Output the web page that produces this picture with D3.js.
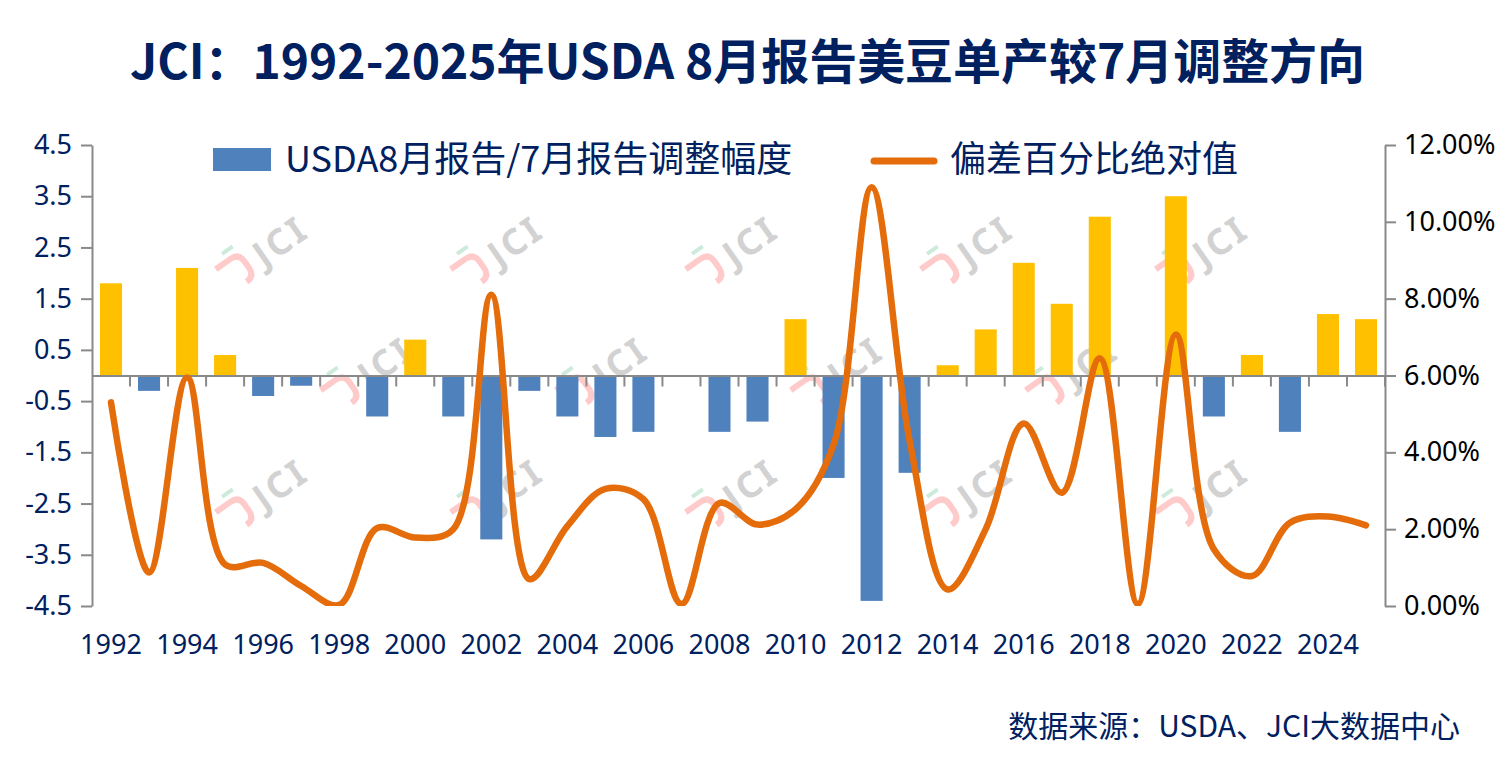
<!DOCTYPE html>
<html>
<head>
<meta charset="utf-8">
<script src="https://cdn.jsdelivr.net/npm/d3@7"></script>
<style>
  body { margin: 0; background: #fff; }
  svg { display: block; }
</style>
</head>
<body>
<script>
// categories
var years = ["1992", "1993", "1994", "1995", "1996", "1997", "1998", "1999", "2000", "2001",
             "2002", "2003", "2004", "2005", "2006", "2007", "2008", "2009", "2010", "2011",
             "2012", "2013", "2014", "2015", "2016", "2017", "2018", "2019", "2020", "2021",
             "2022", "2023", "2024", "2025"];

// USDA 8月报告/7月报告调整幅度 (蒲式耳/英亩)
var adjust = [1.8, -0.3, 2.1, 0.4, -0.4, -0.2, 0, -0.8, 0.7, -0.8,
              -3.2, -0.3, -0.8, -1.2, -1.1, 0, -1.1, -0.9, 1.1, -2.0,
              -4.4, -1.9, 0.2, 0.9, 2.2, 1.4, 3.1, 0, 3.5, -0.8,
              0.4, -1.1, 1.2, 1.1];

// 偏差百分比绝对值 (%)
var deviation = [5.3, 0.87, 5.95, 1.08, 1.12, 0.52, 0.03, 2.03, 1.78, 2.0,
                 8.1, 0.7, 2.08, 3.05, 2.78, 0.05, 2.68, 2.12, 2.52, 4.2,
                 10.9, 4.3, 0.43, 2.0, 4.75, 2.95, 6.45, 0.05, 7.07, 1.48,
                 0.78, 2.17, 2.33, 2.1];

// tick labels
var leftTicks = [4.5, 3.5, 2.5, 1.5, 0.5, -0.5, -1.5, -2.5, -3.5, -4.5];
var rightTicks = [0, 0.02, 0.04, 0.06, 0.08, 0.10, 0.12];
var yearLabels = ["1992", "1994", "1996", "1998", "2000", "2002", "2004", "2006", "2008",
                  "2010", "2012", "2014", "2016", "2018", "2020", "2022", "2024"];

var titleText = "JCI：1992-2025年USDA 8月报告美豆单产较7月调整方向";
var seriesNames = ["USDA8月报告/7月报告调整幅度", "偏差百分比绝对值"];
var sourceText = "数据来源：USDA、JCI大数据中心";

var navy = "#002060",
    axisGray = "#898989",
    cjk = "'Noto Sans CJK SC', 'Noto Sans', sans-serif",
    latin = "'Noto Sans', 'Open Sans', sans-serif";

var svg = d3.select("body").append("svg")
    .attr("width", 1510)
    .attr("height", 761);

var plot = {left: 92, right: 1385, top: 145, bottom: 606};

var x = d3.scaleBand()
    .domain(years)
    .range([plot.left, plot.right]);

var yL = d3.scaleLinear()
    .domain([-4.5, 4.5])
    .range([plot.bottom, plot.top]);

var yR = d3.scaleLinear()
    .domain([0, 0.12])
    .range([plot.bottom, plot.top]);

// watermark logos
var marks = [];
[240, 475, 710, 945, 1180].forEach(function (mx) { marks.push([mx, 262]); marks.push([mx, 505]); });
[345, 580, 815, 1050].forEach(function (mx) { marks.push([mx, 383]); });

var wm = svg.append("g").selectAll("g")
    .data(marks)
    .join("g")
    .attr("transform", function (d) { return "translate(" + d[0] + "," + d[1] + ") rotate(-35)"; });

wm.append("path")
    .attr("d", "M-24,-8 H-6 Q4,-8 4,2 V10 Q4,20 -6,20")
    .attr("fill", "none")
    .attr("stroke", "#ffcaca")
    .attr("stroke-width", 6);

wm.append("path")
    .attr("d", "M-10,-17 H3")
    .attr("fill", "none")
    .attr("stroke", "#cdebdb")
    .attr("stroke-width", 4);

wm.append("text")
    .attr("x", 16)
    .attr("y", 19)
    .attr("fill", "#d2d2d2")
    .attr("font-family", latin)
    .attr("font-weight", "bold")
    .attr("font-size", 36)
    .attr("letter-spacing", 3)
    .text("JCI");

// bars
var barW = x.bandwidth() * 0.58;

svg.append("g").selectAll("rect")
    .data(years)
    .join("rect")
    .attr("x", function (d) { return x(d) + (x.bandwidth() - barW) / 2; })
    .attr("y", function (d, i) { return yL(Math.max(0, adjust[i])); })
    .attr("width", barW)
    .attr("height", function (d, i) { return Math.abs(yL(adjust[i]) - yL(0)); })
    .attr("fill", function (d, i) { return adjust[i] >= 0 ? "#FFC000" : "#4F81BD"; });

function styleAxis(sel, color) {
    sel.select(".domain").attr("stroke", axisGray).attr("stroke-width", 2);
    sel.selectAll(".tick line").attr("stroke", axisGray).attr("stroke-width", 2);
    sel.selectAll(".tick text")
        .attr("fill", color)
        .attr("font-family", latin)
        .attr("font-size", 27);
}

// category axis along zero, ticks between categories
var zeroAxis = svg.append("g")
    .attr("transform", "translate(0," + yL(0) + ")")
    .call(d3.axisBottom(x).tickSize(11).tickSizeOuter(0).tickFormat(""));
zeroAxis.selectAll(".tick line")
    .attr("x1", x.step() / 2)
    .attr("x2", x.step() / 2);
styleAxis(zeroAxis, navy);

// year labels at the bottom
var yearAxis = svg.append("g")
    .attr("transform", "translate(0," + plot.bottom + ")")
    .call(d3.axisBottom(x).tickValues(yearLabels).tickSize(0).tickPadding(29));
yearAxis.select(".domain").remove();
styleAxis(yearAxis, navy);

var leftAxis = svg.append("g")
    .attr("transform", "translate(" + plot.left + ",0)")
    .call(d3.axisLeft(yL).tickValues(leftTicks).tickSize(11).tickSizeOuter(0).tickPadding(9)
        .tickFormat(function (d) { return d.toFixed(1); }));
styleAxis(leftAxis, navy);

var rightAxis = svg.append("g")
    .attr("transform", "translate(" + plot.right + ",0)")
    .call(d3.axisRight(yR).tickValues(rightTicks).tickSize(11).tickSizeOuter(0).tickPadding(8)
        .tickFormat(d3.format(".2%")));
styleAxis(rightAxis, "#000");

// smoothed line
svg.append("clipPath")
    .attr("id", "plot-clip")
    .append("rect")
    .attr("x", plot.left)
    .attr("y", plot.top - 20)
    .attr("width", plot.right - plot.left)
    .attr("height", plot.bottom - plot.top + 20);

var line = d3.line()
    .x(function (d, i) { return x(years[i]) + x.bandwidth() / 2; })
    .y(function (d) { return yR(d / 100); })
    .curve(d3.curveCatmullRom.alpha(0.5));

svg.append("path")
    .datum(deviation)
    .attr("clip-path", "url(#plot-clip)")
    .attr("fill", "none")
    .attr("stroke", "#E46C0A")
    .attr("stroke-width", 6.5)
    .attr("stroke-linejoin", "round")
    .attr("stroke-linecap", "round")
    .attr("d", line);

// legend
var legend = svg.append("g");
legend.append("rect")
    .attr("x", 213).attr("y", 148)
    .attr("width", 58).attr("height", 23)
    .attr("fill", "#4F81BD");
legend.append("text")
    .attr("x", 285).attr("y", 172)
    .attr("font-family", cjk).attr("font-size", 36)
    .attr("fill", navy)
    .text(seriesNames[0]);
legend.append("line")
    .attr("x1", 874).attr("x2", 934)
    .attr("y1", 161).attr("y2", 161)
    .attr("stroke", "#E46C0A")
    .attr("stroke-width", 7)
    .attr("stroke-linecap", "round");
legend.append("text")
    .attr("x", 950).attr("y", 172)
    .attr("font-family", cjk).attr("font-size", 36)
    .attr("fill", navy)
    .text(seriesNames[1]);

// title
svg.append("text")
    .attr("x", 130).attr("y", 79)
    .attr("font-family", cjk).attr("font-size", 48).attr("font-weight", "bold")
    .attr("fill", navy)
    .attr("textLength", 1235)
    .attr("lengthAdjust", "spacingAndGlyphs")
    .text(titleText);

// source
svg.append("text")
    .attr("x", 1460).attr("y", 737)
    .attr("text-anchor", "end")
    .attr("font-family", cjk).attr("font-size", 30)
    .attr("fill", navy)
    .text(sourceText);
</script>
</body>
</html>
